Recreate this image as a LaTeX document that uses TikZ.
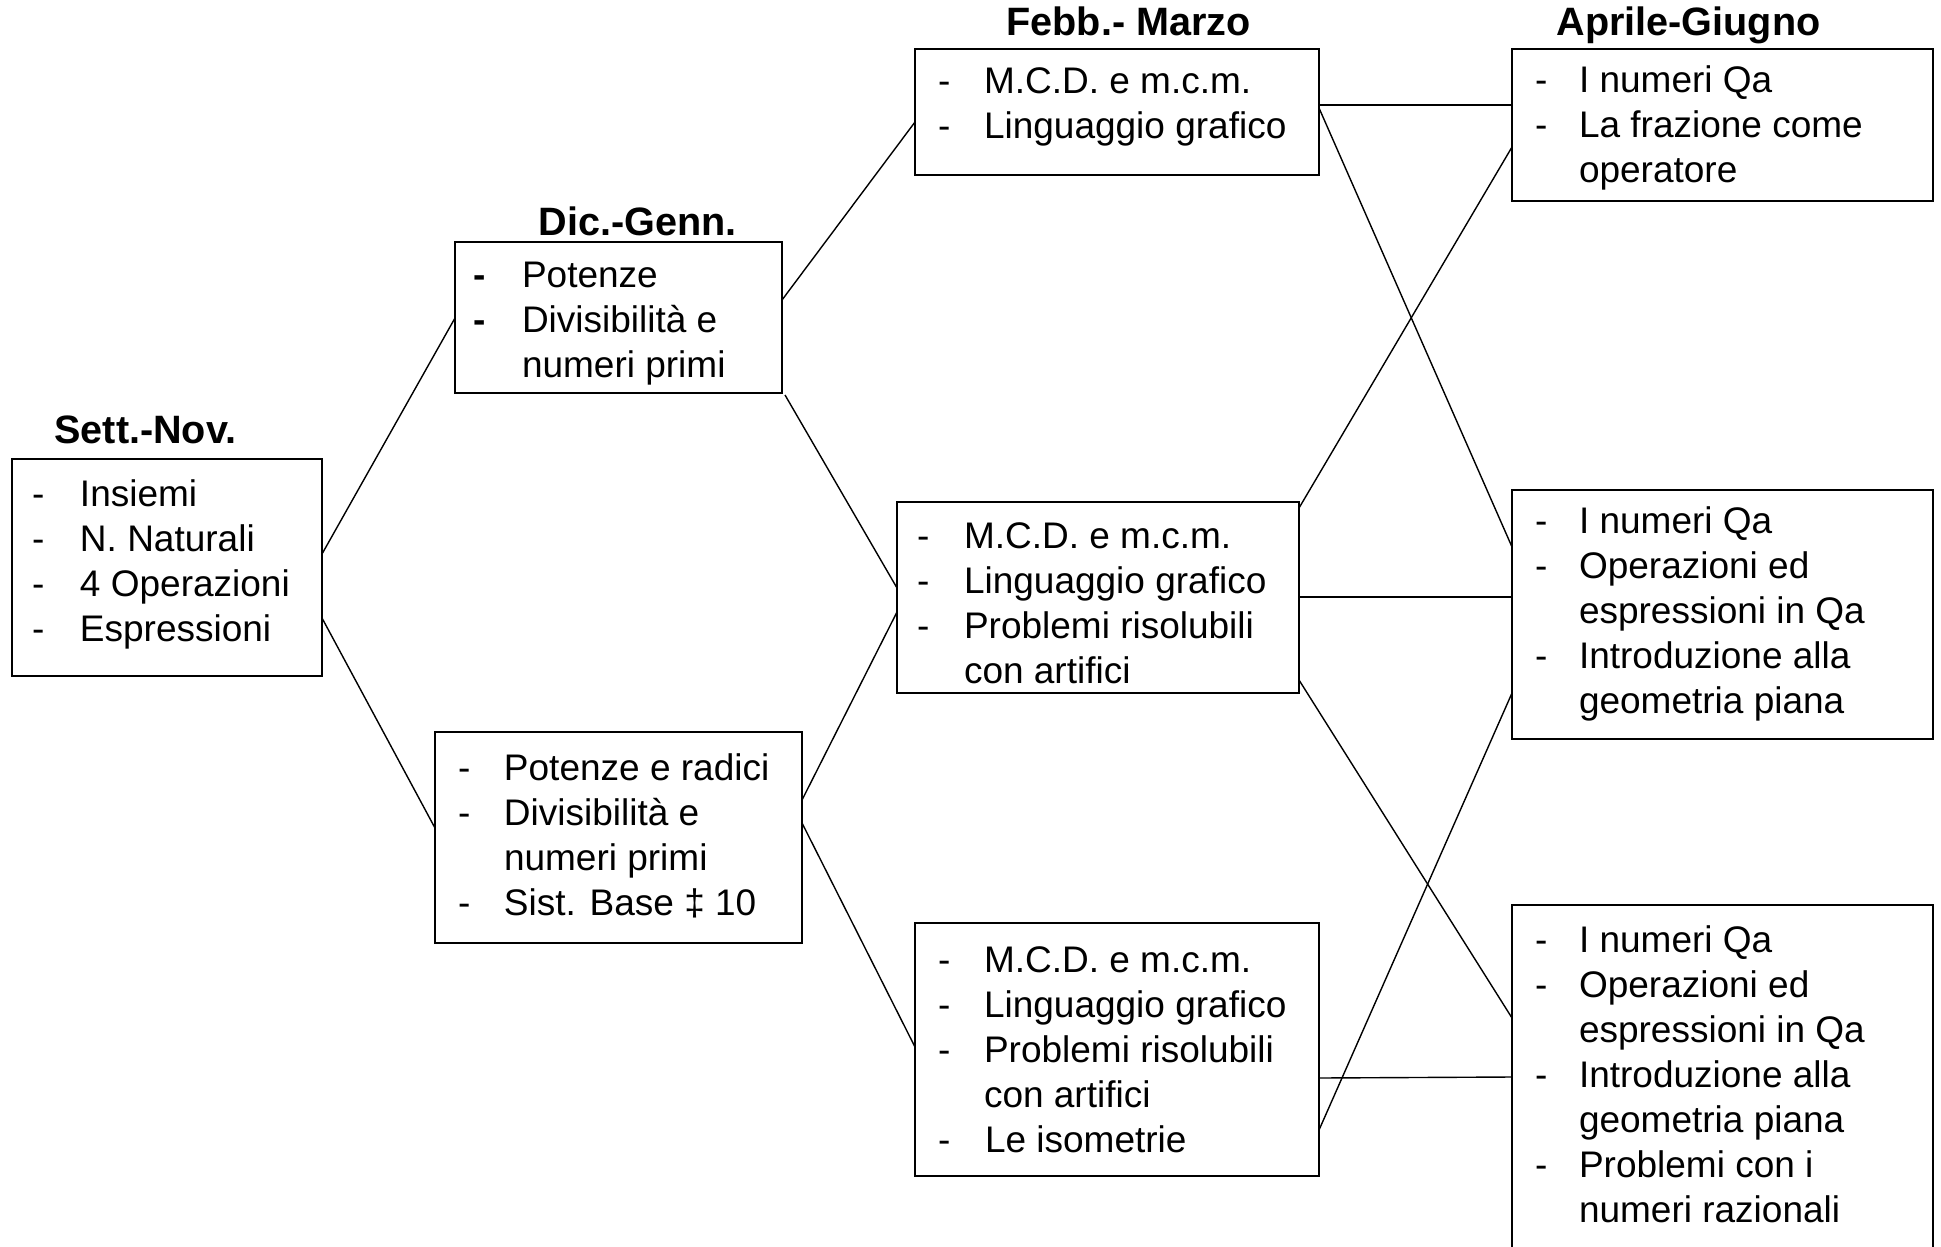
\documentclass[tikz,border=0pt]{standalone}
\usepackage{fontspec}
\setmainfont{Liberation Sans}
\usetikzlibrary{calc}
\newlength\dsh
\newlength\txo
\newcommand\li[1]{\hspace*{\dsh}\makebox[\txo][l]{-}#1}
\newcommand\lb[1]{\hspace*{\dsh}\makebox[\txo][l]{\textbf{-}}#1}
\newcommand\lc[1]{\hspace*{\dsh}\hspace*{\txo}#1}
\newcommand\boxtext[6]{\parbox[t][#2][t]{#1}{\setlength\dsh{#3}\setlength\txo{#4}%
  \fontsize{18.5}{22.5}\selectfont\raggedright\rule{0pt}{#5}#6}}
\begin{document}
\begin{tikzpicture}[x=0.5pt,y=-0.5pt,
  box/.style={draw, line width=1pt, inner sep=0pt, outer sep=0pt, anchor=north west},
  conn/.style={line width=0.7pt},
  ttl/.style={anchor=base west, inner sep=0pt, font=\fontsize{19.8}{22}\selectfont\bfseries}]
\useasboundingbox (0,0) rectangle (1941,1246);
\fill[white] (0,0) rectangle (1941,1246);
\clip (0,0) rectangle (1941,1246);

% titles
\node[ttl] (tA) at (54,443) {Sett.-Nov.};
\node[ttl] (tB) at (538,235) {Dic.-Genn.};
\node[ttl] (tD) at (1006,36) {Febb.- Marzo};
\node[ttl] (tG) at (1556,36) {Aprile-Giugno};

% boxes
\node[box] (A) at (12,459) {\boxtext{155pt}{108.5pt}{10pt}{24pt}{23.5pt}{%
  \li{Insiemi}\\\li{N. Naturali}\\\li{4 Operazioni}\\\li{Espressioni}}};

\node[box] (B) at (455,242) {\boxtext{163.5pt}{75.5pt}{9pt}{24.5pt}{22.5pt}{%
  \lb{Potenze}\\\lb{Divisibilità e}\\\lc{numeri primi}}};

\node[box] (C) at (435,732) {\boxtext{183.5pt}{105.5pt}{11.5pt}{23pt}{24pt}{%
  \li{Potenze e radici}\\\li{Divisibilità e}\\\lc{numeri primi}\\\li{Sist. Base ‡ 10}}};

\node[box] (D) at (915,49) {\boxtext{202pt}{63pt}{11.5pt}{23pt}{22.5pt}{%
  \li{M.C.D. e m.c.m.}\\\li{Linguaggio grafico}}};

\node[box] (E) at (897,502) {\boxtext{201pt}{95.5pt}{10pt}{23.5pt}{23pt}{%
  \li{M.C.D. e m.c.m.}\\\li{Linguaggio grafico}\\\li{Problemi risolubili}\\\lc{con artifici}}};

\node[box] (F) at (915,923) {\boxtext{202pt}{126.5pt}{11.5pt}{23pt}{24.5pt}{%
  \li{M.C.D. e m.c.m.}\\\li{Linguaggio grafico}\\\li{Problemi risolubili}\\\lc{con artifici}\\\li{\hspace{0.5pt}Le isometrie}}};

\node[box] (G) at (1512,49) {\boxtext{210.5pt}{76pt}{11.5pt}{22pt}{22pt}{%
  \li{I numeri Qa}\\\li{La frazione come}\\\lc{operatore}}};

\node[box] (H) at (1512,490) {\boxtext{210.5pt}{124.5pt}{11.5pt}{22pt}{21.5pt}{%
  \li{I numeri Qa}\\\li{Operazioni ed}\\\lc{espressioni in Qa}\\\li{Introduzione alla}\\\lc{geometria piana}}};

\node[box] (I) at (1512,905) {\boxtext{210.5pt}{185pt}{11.5pt}{22pt}{23.5pt}{%
  \li{I numeri Qa}\\\li{Operazioni ed}\\\lc{espressioni in Qa}\\\li{Introduzione alla}\\\lc{geometria piana}\\\li{Problemi con i}\\\lc{numeri razionali}}};

% connectors
\draw[conn] ($(A.north east)+(0,95)$) -- ($(B.north west)+(0,76)$);
\draw[conn] ($(A.north east)+(0,159)$) -- ($(C.north west)+(0,96)$);
\draw[conn] ($(B.north east)+(0,58)$) -- ($(D.north west)+(0,73)$);
\draw[conn] ($(B.south east)+(3,2)$) -- ($(E.north west)+(0,86)$);
\draw[conn] ($(C.north east)+(0,68)$) -- ($(E.north west)+(0,110)$);
\draw[conn] ($(C.north east)+(0,91)$) -- ($(F.north west)+(0,124)$);
\draw[conn] ($(D.north east)+(0,56)$) -- ($(G.north west)+(0,56)$);
\draw[conn] ($(D.north east)+(0,59)$) -- ($(H.north west)+(0,57)$);
\draw[conn] ($(E.north east)+(0,6)$) -- ($(G.north west)+(0,98)$);
\draw[conn] ($(E.north east)+(0,95)$) -- ($(H.north west)+(0,107)$);
\draw[conn] ($(E.north east)+(0,178)$) -- ($(I.north west)+(0,113)$);
\draw[conn] ($(F.north east)+(0,155)$) -- ($(I.north west)+(0,172)$);
\draw[conn] ($(F.north east)+(0,207)$) -- ($(H.north west)+(0,203)$);
\end{tikzpicture}
\end{document}
